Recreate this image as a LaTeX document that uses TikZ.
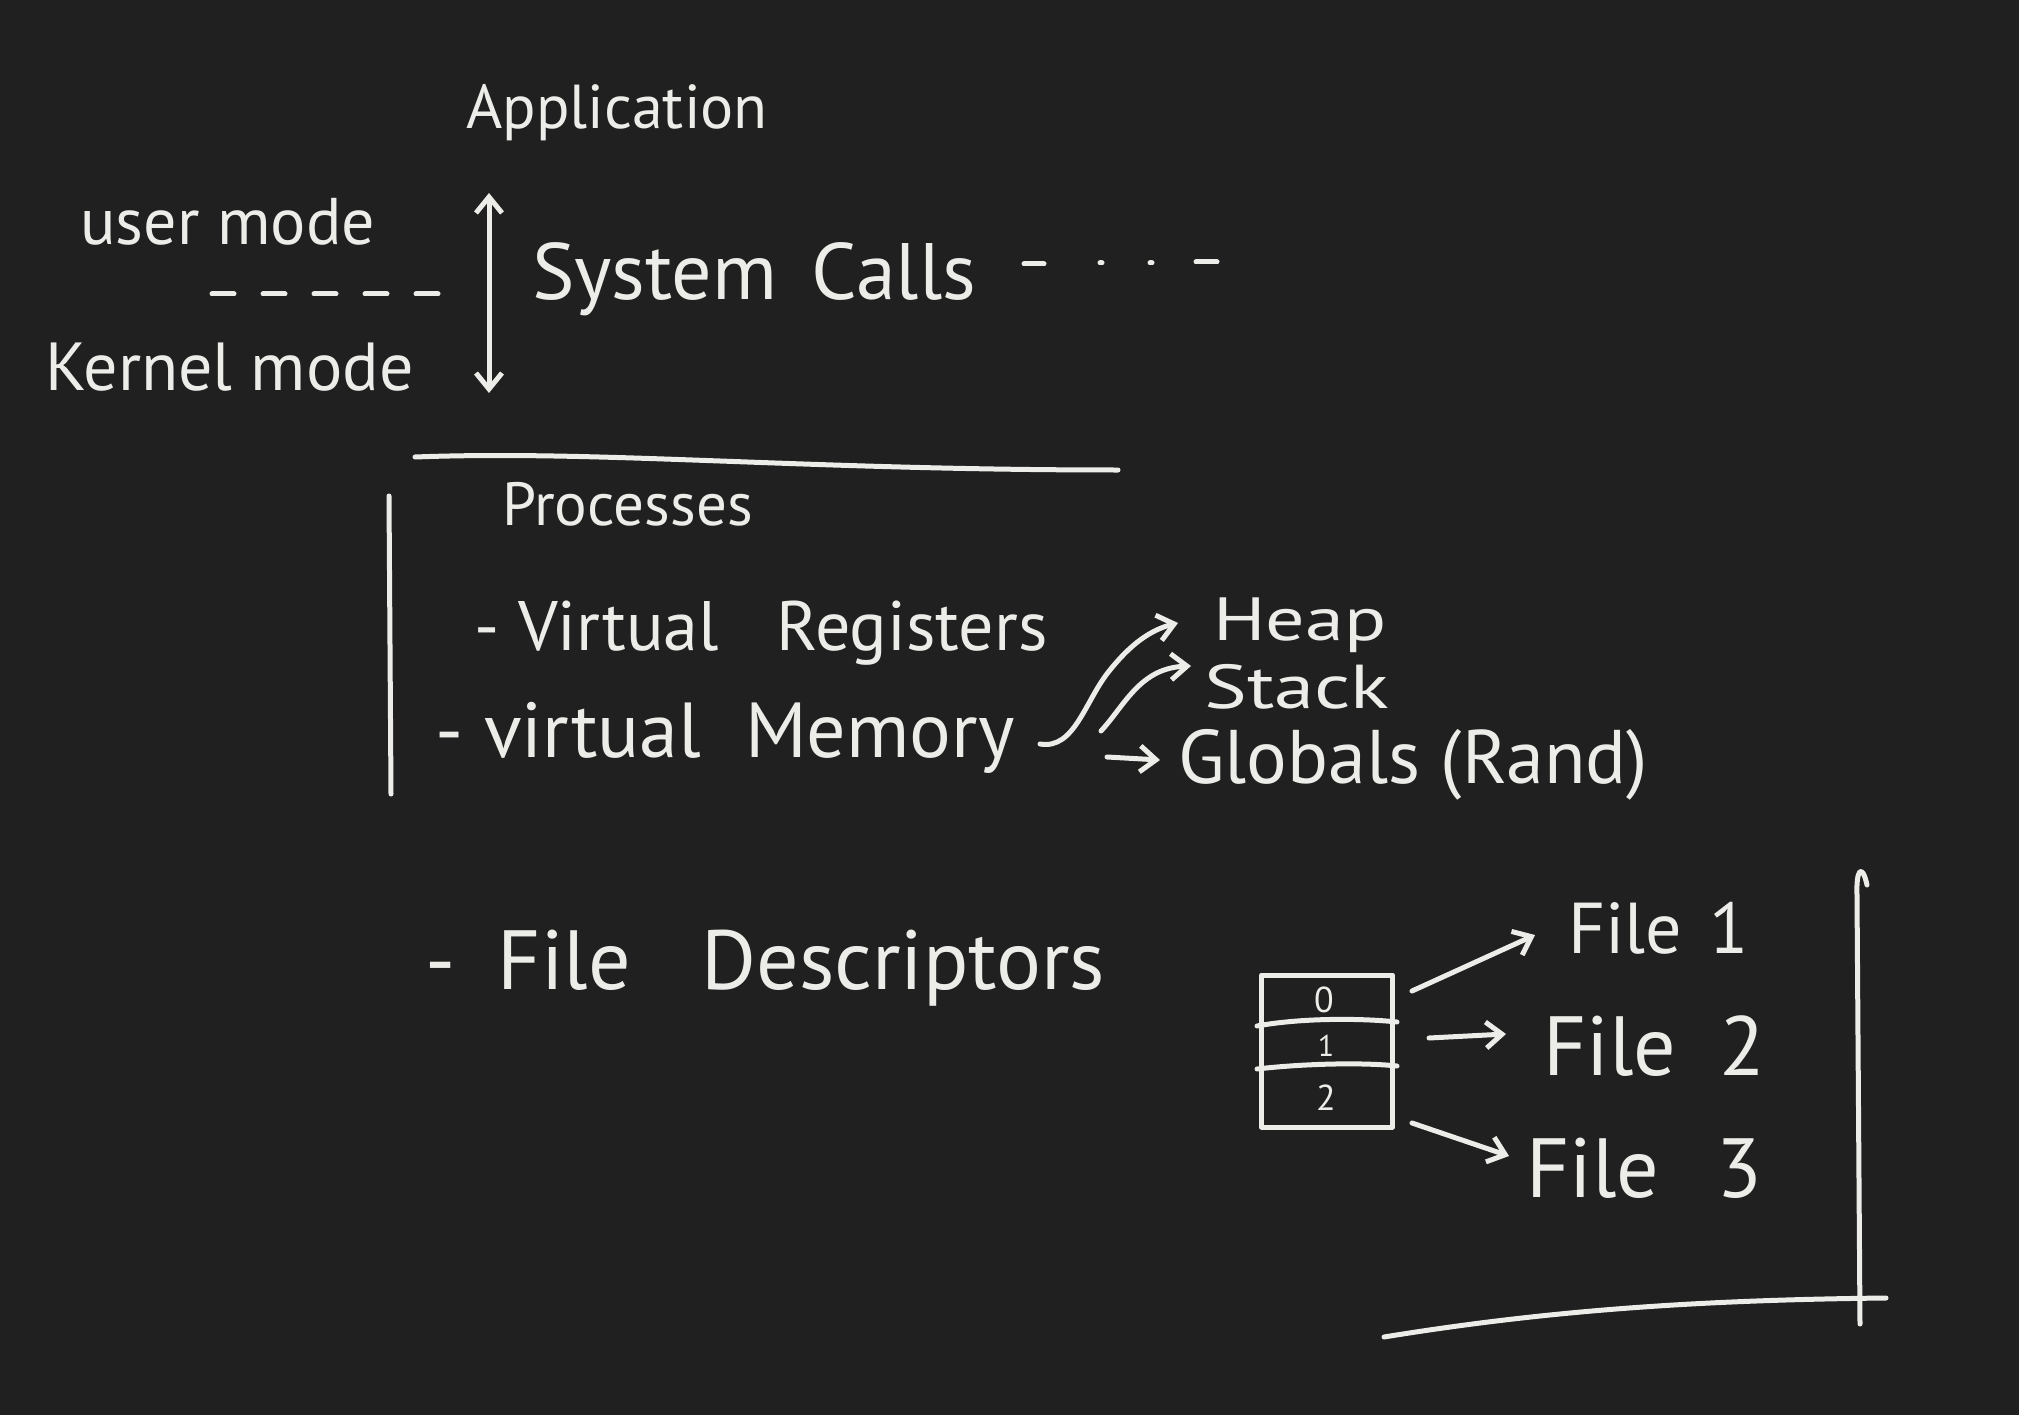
\documentclass[tikz,border=0pt]{standalone}
\usepackage{fontspec}
\setmainfont{PT Sans}
\usetikzlibrary{arrows.meta}
\definecolor{bg}{HTML}{212020}
\definecolor{ink}{HTML}{ECECE9}
\begin{document}
\begin{tikzpicture}[x=1pt,y=-1pt,
  hw/.style={text=ink, inner sep=0pt, anchor=base west, font=\fontsize{64}{70}\selectfont},
  pen/.style={draw=ink, line width=5pt, line cap=round, line join=round},
  arr/.style={pen, -{Straight Barb[length=16pt,width=26pt,line width=5pt]}},
  darr/.style={pen, {Straight Barb[length=16pt,width=26pt,line width=5pt]}-{Straight Barb[length=16pt,width=26pt,line width=5pt]}},
]
\fill[bg] (0,0) rectangle (2019,1415);
\useasboundingbox (0,0) rectangle (2019,1415);

% top part
\node[hw, font=\fontsize{62}{70}\selectfont] (app) at (466,129) {Application};
\node[hw, font=\fontsize{66}{70}\selectfont] (user) at (80,245) {user mode};
\node[hw, font=\fontsize{68}{70}\selectfont] (kernel) at (45,390) {Kernel mode};
\node[hw, font=\fontsize{80}{84}\selectfont] (sys) at (532,300) {System\hspace*{13pt} Calls};
\coordinate (uk1) at (212,294);
\coordinate (uk2) at (438,294);
\draw[pen, dash pattern=on 22pt off 29pt] (uk1) -- (uk2);
\coordinate (upt) at (489,193);
\coordinate (dnt) at (489,393);
\draw[darr] (upt) -- (dnt);
\draw[pen] (1024,264) -- (1044,264);
\draw[pen] (1100,263) -- (1102,263);
\draw[pen] (1150,263) -- (1152,263);
\draw[pen] (1196,262) -- (1217,262);

% process box
\draw[pen] (415,457) .. controls (600,450) and (800,470) .. (1118,470);
\draw[pen] (389,496) -- (391,794);
\node[hw, font=\fontsize{61}{64}\selectfont] (proc) at (502,525) {Processes};
\node[hw, font=\fontsize{70}{74}\selectfont] (reg) at (474,650) {- Virtual\hspace*{39pt} Registers};
\node[hw, font=\fontsize{78}{80}\selectfont] (mem) at (435,757) {- virtual\hspace*{23pt} Memory};
\node[hw, font=\fontsize{61}{64}\selectfont, xscale=1.28, transform shape] (heap) at (1213,640) {Heap};
\node[hw, font=\fontsize{62}{64}\selectfont, xscale=1.3, transform shape] (stack) at (1204,708) {Stack};
\node[hw, font=\fontsize{76}{80}\selectfont] (glob) at (1178,783) {Globals (Rand)};
\coordinate (h0) at (1040,744);
\coordinate (h1) at (1178,623);
\draw[arr] (h0) .. controls (1075,750) and (1085,700) .. (1110,670) .. controls (1130,645) and (1150,630) .. (h1);
\coordinate (s0) at (1101,731);
\coordinate (s1) at (1191,666);
\draw[arr] (s0) .. controls (1125,705) and (1140,668) .. (s1);
\coordinate (g0) at (1107,757);
\coordinate (g1) at (1160,760);
\draw[arr] (g0) -- (g1);

% file descriptors
\node[hw, font=\fontsize{84}{88}\selectfont] (fdtext) at (425,989) {-\hspace*{20pt} File\hspace*{48pt} Descriptors};
\node[pen, minimum width=131pt, minimum height=152pt, inner sep=0pt] (fd) at (1327,1051) {};
\draw[pen] (1257,1026) .. controls (1300,1018) and (1360,1018) .. (1397,1022);
\draw[pen] (1257,1069) .. controls (1300,1064) and (1360,1062) .. (1397,1066);
\node[text=ink, font=\fontsize{36}{40}\selectfont] (n0) at (1324,1000) {0};
\node[text=ink, font=\fontsize{30}{34}\selectfont] (n1) at (1326,1046) {1};
\node[text=ink, font=\fontsize{36}{40}\selectfont] (n2) at (1326,1098) {2};

\node[hw, font=\fontsize{72}{76}\selectfont] (f1) at (1568,953) {File\hspace*{8pt} 1};
\node[hw, font=\fontsize{84}{88}\selectfont] (f2) at (1543,1075) {File\hspace*{21pt} 2};
\node[hw, font=\fontsize{84}{88}\selectfont] (f3) at (1526,1197) {File\hspace*{35pt} 3};
\coordinate (a1) at (1412,991);
\coordinate (b1) at (1535,935);
\coordinate (a2) at (1429,1038);
\coordinate (b2) at (1506,1034);
\coordinate (a3) at (1412,1123);
\coordinate (b3) at (1509,1156);
\draw[arr] (a1) -- (b1);
\draw[arr] (a2) -- (b2);
\draw[arr] (a3) -- (b3);

% right bracket
\draw[pen] (1860,1324) -- (1857,895) .. controls (1856,870) and (1862,862) .. (1867,885);
\draw[pen] (1384,1337) .. controls (1550,1310) and (1700,1300) .. (1886,1298);
\end{tikzpicture}
\end{document}
